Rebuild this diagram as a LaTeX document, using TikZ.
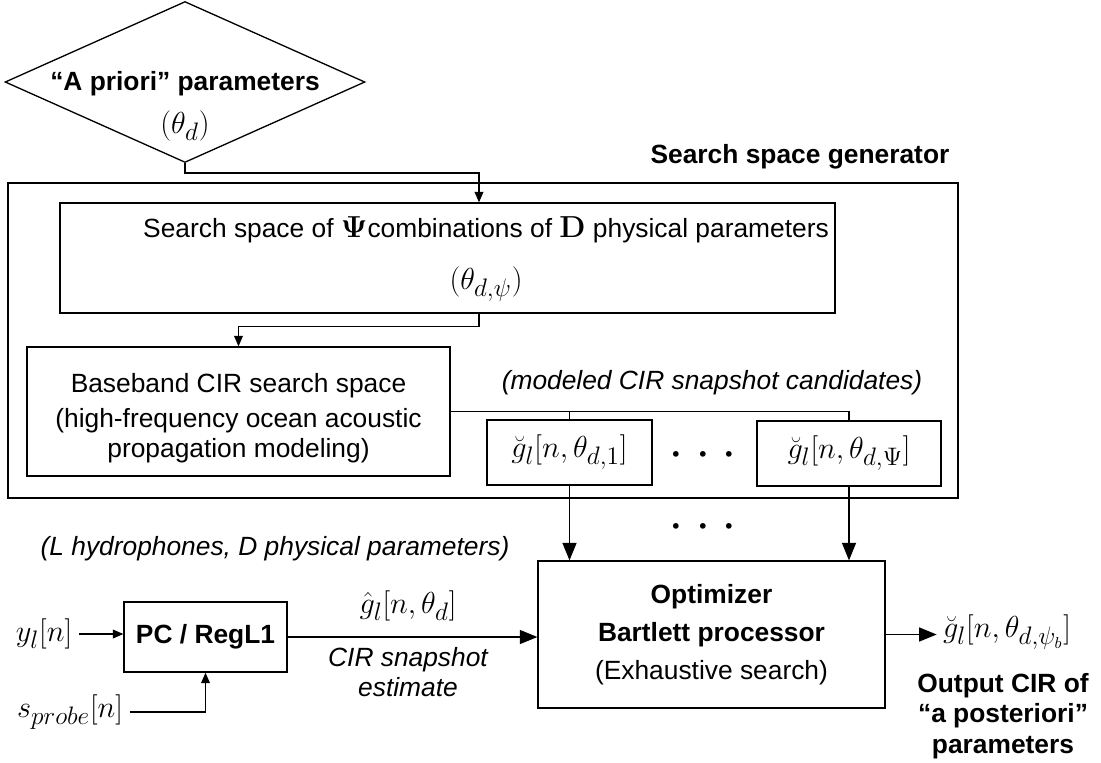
\documentclass[tikz,border=0pt]{standalone}
\usepackage{amsmath,amsfonts,amssymb}
\usepackage[no-math]{fontspec}
\setmainfont{Liberation Sans}
\usepackage{tikz}
\usetikzlibrary{shapes.geometric,arrows.meta}
\newcommand{\lbltxt}{\fontsize{15}{17.5}\selectfont}
\newcommand{\lblmath}{\fontsize{19}{22}\selectfont}

\begin{document}
\begin{tikzpicture}[x=0.02cm,y=-0.02cm,line width=0.75pt]
      \useasboundingbox(0,0) rectangle (1101,762);
      \tikzset{B/.style = {shape=rectangle, draw, align=center, font=\lbltxt}}
      \tikzset{L/.style = {align=center, font=\lbltxt}}
      \tikzset{E/.style = {draw,-{Triangle[length=10pt,width=8pt]}}}
      \tikzset{Es/.style = {draw,-{Triangle[length=6pt,width=5pt]}}}
      \node[shape=diamond,draw,inner sep=0pt,minimum width=7.2cm,minimum height=3.22cm](prior) at (185,82) {};
      \node[L](priortxt) at (185,106) {\textbf{“A priori” parameters}\\[7pt]{\lblmath$(\theta_d)$}};
      \node[L,font=\lbltxt\bfseries](ssgenlbl) at (800,157) {Search space generator};
      \node[B,minimum width=19cm,minimum height=6.3cm](ssgen) at (483,340.5) {};
      \node[B,minimum width=15.5cm,minimum height=2.2cm](combos) at (447.5,258) {};
      \node[L](combostxt) at (486,259) {Search space of {\lblmath$\mathbf{\Psi}$}combinations of {\lblmath$\mathbf{D}$} physical parameters\\[12pt]{\lblmath$(\theta_{d,\psi})$}};
      \node[B,minimum width=8.46cm,minimum height=2.58cm](baseband) at (238.5,411.5) {\rule{0pt}{19pt}Baseband CIR search space\\[2pt](high-frequency ocean acoustic\\propagation modeling)};
      \node[L,font=\lbltxt\itshape](candlbl) at (712,383) {(modeled CIR snapshot candidates)};
      \node[B,minimum width=3.3cm,minimum height=1.3cm,font=\lblmath](g1) at (569.5,452.5) {$\breve{g}_l[n,\theta_{d,1}]$};
      \node[B,minimum width=3.68cm,minimum height=1.3cm,font=\lblmath](gpsi) at (849,453.5) {$\breve{g}_l[n,\theta_{d,\Psi}]$};
      \node[L,font=\huge](dotsa) at (703,455) {$\boldsymbol{\cdot}\hskip4pt\boldsymbol{\cdot}\hskip4pt\boldsymbol{\cdot}$};
      \node[L,font=\huge](dotsb) at (703,527) {$\boldsymbol{\cdot}\hskip4pt\boldsymbol{\cdot}\hskip4pt\boldsymbol{\cdot}$};
      \node[L,font=\lbltxt\itshape](hydlbl) at (275,549) {(L hydrophones, D physical parameters)};
      \node[B,font=\lbltxt\bfseries,minimum width=3.26cm,minimum height=1.4cm](pc) at (205.5,637) {PC / RegL1};
      \node[L,font=\lblmath](yin) at (44,634) {$y_l[n]$};
      \node[L,font=\lblmath](sin) at (70,712) {$s_{probe}[n]$};
      \node[B,minimum width=6.94cm,minimum height=2.94cm](opt) at (711.5,634.5) {\textbf{Optimizer}\\[4pt]\textbf{Bartlett processor}\\[4pt](Exhaustive search)};
      \node[L,font=\lblmath](gest) at (408,606) {$\hat{g}_l[n,\theta_d]$};
      \node[L,font=\lbltxt\itshape](estlbl) at (408,672) {CIR snapshot\\estimate};
      \node[L,font=\lblmath](gout) at (1007,632) {$\breve{g}_l[n,\theta_{d,\psi_b}]$};
      \node[L,font=\lbltxt\bfseries](outlbl) at (1003,716) {Output CIR of\\“a posteriori”\\parameters};
      \draw[Es](prior.south) -- (185,173) -| ([xshift=0.63cm]combos.north);
      \draw[Es]([xshift=0.63cm]combos.south) -- ++(0,13) -| (baseband.north);
      \draw(baseband.east) -| (gpsi.north);
      \draw(baseband.east -| g1.north) -- (g1.north);
      \draw[E](g1.south) -- (g1.south |- opt.north);
      \draw[E](gpsi.south) -- (gpsi.south |- opt.north);
      \draw[Es](yin.east) -- (yin.east -| pc.west);
      \draw[Es](sin.east) -| (pc.south);
      \draw[E](pc.east) -- (pc.east -| opt.west);
      \draw[E](opt.east) -- (opt.east -| gout.west);
    \end{tikzpicture}
\end{document}
